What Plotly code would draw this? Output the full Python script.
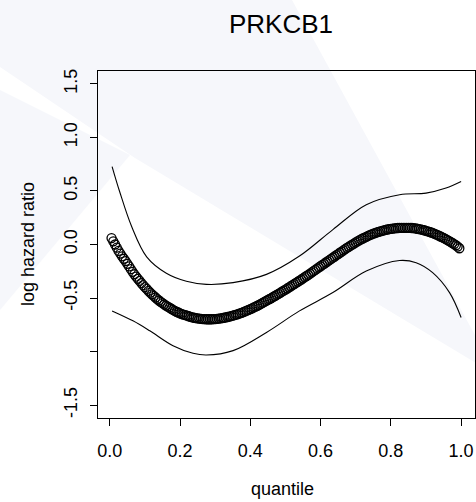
import plotly.graph_objects as go

# ---------------- data ----------------
# quantile positions of the estimated curve (step 0.005)
quantile = [round(0.005 * k, 3) for k in range(1, 200)]
log_hr = [
    0.060, 0.030, 0.000, -0.030, -0.060, -0.085, -0.110, -0.133, -0.155, -0.180,
    -0.205, -0.230, -0.255, -0.278, -0.300, -0.320, -0.340, -0.360, -0.380, -0.398,
    -0.415, -0.433, -0.450, -0.465, -0.480, -0.495, -0.510, -0.523, -0.535, -0.548,
    -0.560, -0.570, -0.580, -0.590, -0.600, -0.610, -0.620, -0.628, -0.635, -0.643,
    -0.650, -0.655, -0.660, -0.665, -0.670, -0.675, -0.680, -0.684, -0.687, -0.690,
    -0.692, -0.694, -0.696, -0.697, -0.698, -0.698, -0.698, -0.698, -0.697, -0.696,
    -0.694, -0.692, -0.690, -0.687, -0.684, -0.681, -0.677, -0.673, -0.669, -0.665,
    -0.660, -0.655, -0.650, -0.644, -0.638, -0.632, -0.625, -0.618, -0.611, -0.604,
    -0.596, -0.588, -0.580, -0.572, -0.563, -0.554, -0.545, -0.536, -0.527, -0.518,
    -0.509, -0.500, -0.490, -0.481, -0.471, -0.461, -0.451, -0.441, -0.431, -0.421,
    -0.411, -0.401, -0.390, -0.380, -0.369, -0.359, -0.348, -0.338, -0.327, -0.316,
    -0.305, -0.294, -0.283, -0.272, -0.260, -0.249, -0.237, -0.226, -0.214, -0.203,
    -0.191, -0.180, -0.168, -0.157, -0.145, -0.134, -0.123, -0.112, -0.100, -0.089,
    -0.077, -0.066, -0.054, -0.043, -0.032, -0.022, -0.011, -0.001, 0.009, 0.019,
    0.029, 0.038, 0.047, 0.056, 0.064, 0.072, 0.080, 0.087, 0.094, 0.101,
    0.107, 0.113, 0.118, 0.123, 0.128, 0.132, 0.136, 0.140, 0.143, 0.146,
    0.148, 0.150, 0.152, 0.154, 0.155, 0.156, 0.156, 0.156, 0.156, 0.156,
    0.155, 0.154, 0.152, 0.150, 0.147, 0.144, 0.141, 0.137, 0.133, 0.128,
    0.123, 0.118, 0.112, 0.106, 0.099, 0.092, 0.085, 0.077, 0.069, 0.061,
    0.052, 0.043, 0.034, 0.024, 0.014, 0.004, -0.007, -0.019, -0.035,
]

upper_x = [0.0066, 0.028, 0.062, 0.105, 0.161, 0.218, 0.275, 0.351, 0.446,
           0.540, 0.635, 0.730, 0.825, 0.900, 0.957, 1.0]
upper_y = [0.728, 0.495, 0.170, -0.115, -0.268, -0.343, -0.372, -0.356, -0.279,
           -0.108, 0.139, 0.372, 0.465, 0.480, 0.527, 0.588]

lower_x = [0.0066, 0.066, 0.114, 0.180, 0.237, 0.275, 0.351, 0.446, 0.540,
           0.635, 0.730, 0.825, 0.872, 0.919, 0.967, 1.0]
lower_y = [-0.620, -0.713, -0.806, -0.945, -1.016, -1.032, -0.991, -0.821, -0.620,
           -0.449, -0.248, -0.149, -0.170, -0.263, -0.449, -0.681]

x_ticks = [0.0, 0.2, 0.4, 0.6, 0.8, 1.0]
x_tick_labels = ["0.0", "0.2", "0.4", "0.6", "0.8", "1.0"]
y_ticks = [-1.5, -1.0, -0.5, 0.0, 0.5, 1.0, 1.5]
y_tick_labels = ["-1.5", "", "-0.5", "0.0", "0.5", "1.0", "1.5"]

title_text = "PRKCB1"
x_title = "quantile"
y_title = "log hazard ratio"

# ---------------- figure ----------------
W, H = 476, 502
ML, MR, MT, MB = 98, 1, 71, 84
FONT = "Liberation Sans, Arial, Helvetica, sans-serif"
pw, ph = W - ML - MR, H - MT - MB

fig = go.Figure()

for xs, ys in [(upper_x, upper_y), (lower_x, lower_y)]:
    fig.add_trace(go.Scatter(
        x=xs, y=ys, mode="lines",
        line=dict(color="black", width=1.1, shape="spline", smoothing=1.0),
        hoverinfo="skip", showlegend=False))

fig.add_trace(go.Scatter(
    x=quantile, y=log_hr, mode="markers",
    marker=dict(symbol="circle-open", size=9, color="black",
                line=dict(color="black", width=1.3)),
    showlegend=False))


# faint watermark polygons in the background (pixel -> paper coords)
def path_of(pts):
    p = [((px - ML) / pw, (H - MB - py) / ph) for px, py in pts]
    return "M " + " L ".join(f"{a:.4f},{b:.4f}" for a, b in p) + " Z"


wm_color = "#f6f7fb"
for poly in [
    [(0, 0), (292, 0), (476, 337), (476, 363), (135, 158), (0, 67)],
    [(0, 90), (130, 155), (0, 310)],
]:
    fig.add_shape(type="path", path=path_of(poly), xref="paper", yref="paper",
                  fillcolor=wm_color, line=dict(width=0), layer="below")

fig.update_layout(
    width=W, height=H,
    margin=dict(l=ML, r=MR, t=MT, b=MB),
    paper_bgcolor="white", plot_bgcolor="rgba(0,0,0,0)",
    font=dict(family=FONT, size=18, color="black"),
    showlegend=False,
    title=dict(text=title_text, x=281 / W, xref="container", xanchor="center",
               y=1 - 24 / H, yref="container", yanchor="middle",
               font=dict(size=26, family=FONT, color="black")),
    annotations=[
        dict(text=x_title, x=(282 - ML) / pw, y=(H - MB - 489) / ph,
             xref="paper", yref="paper", showarrow=False,
             xanchor="center", yanchor="middle", font=dict(size=18, family=FONT)),
        dict(text=y_title, x=(28 - ML) / pw, y=(H - MB - 244) / ph,
             xref="paper", yref="paper", showarrow=False,
             xanchor="center", yanchor="middle", textangle=-90,
             font=dict(size=18, family=FONT)),
    ],
)

fig.update_xaxes(
    range=[-0.0335, 1.0395], tickvals=x_ticks, ticktext=x_tick_labels,
    ticks="outside", ticklen=7, tickwidth=1, tickcolor="black",
    showline=True, linecolor="black", linewidth=1.3, mirror=True,
    showgrid=False, zeroline=False, ticklabelstandoff=9,
    tickfont=dict(size=18, family=FONT))
fig.update_yaxes(
    range=[-1.62, 1.62], tickvals=y_ticks, ticktext=y_tick_labels,
    ticks="outside", ticklen=7, tickwidth=1, tickcolor="black",
    showline=True, linecolor="black", linewidth=1.3, mirror=True,
    showgrid=False, zeroline=False, tickangle=-90, ticklabelstandoff=6,
    tickfont=dict(size=18, family=FONT))

fig.write_html(
    "out.html",
    config={"displayModeBar": False},
    post_script="document.body.style.margin='0';document.body.style.padding='0';"
                "document.documentElement.style.overflow='hidden';")
